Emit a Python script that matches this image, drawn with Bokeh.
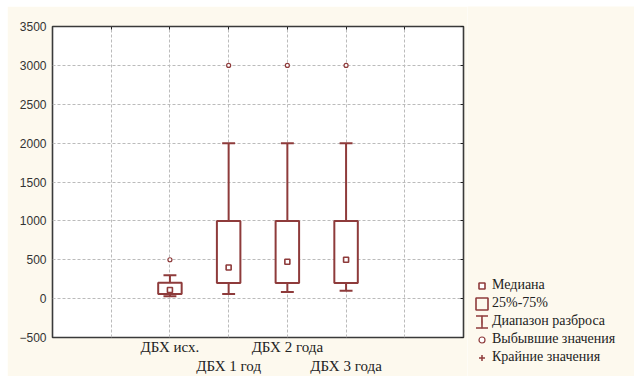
from bokeh.plotting import figure
from bokeh.models import (Range1d, FixedTicker, LinearAxis, Legend, LegendItem, Spacer)
from bokeh.layouts import row, column
from bokeh.embed import file_html
from bokeh.resources import INLINE

# ---- data ----
categories = ["ДБХ исх.", "ДБХ 1 год", "ДБХ 2 года", "ДБХ 3 года"]
medians = [110, 400, 475, 500]
q1 = [60, 200, 200, 200]
q3 = [205, 1000, 1000, 1000]
whisker_low = [30, 60, 85, 100]
whisker_high = [300, 2000, 2000, 2000]
outliers = [500, 3000, 3000, 3000]
y_ticks = [-500, 0, 500, 1000, 1500, 2000, 2500, 3000, 3500]
legend_labels = ["Медиана", "25%-75%", "Диапазон разброса", "Выбывшие значения", "Крайние значения"]

RED = "#8E3B3B"
CREAM = "#FDF9EE"
FONT_SERIF = "Liberation Serif"
NAN = float("nan")

n_slots = len(categories) + 3
xs = [i + 2 for i in range(len(categories))]
box_w = 0.4
cap_w = 0.22

p = figure(width=460, height=370, output_backend="svg", toolbar_location=None,
           x_range=Range1d(0, n_slots), y_range=Range1d(y_ticks[0], y_ticks[-1]),
           min_border_left=45, min_border_right=4, min_border_top=20, min_border_bottom=35)
p.background_fill_color = "white"
p.border_fill_color = CREAM
p.outline_line_color = "#3a3a3a"
p.outline_line_width = 1.6

# grids
grid_x = list(range(1, n_slots))
p.xgrid.ticker = FixedTicker(ticks=grid_x)
p.ygrid.ticker = FixedTicker(ticks=y_ticks)
for g in (p.xgrid, p.ygrid):
    g.grid_line_color = "#bbbbbb"
    g.grid_line_dash = "3 2"
    g.grid_line_width = 1

# y axis
p.yaxis.ticker = FixedTicker(ticks=y_ticks)
p.yaxis.major_label_text_font = "Liberation Sans"
p.yaxis.major_label_text_font_size = "12px"
p.yaxis.major_label_text_color = "#333333"
p.yaxis.major_label_standoff = 6

# x axes (staggered)
ax1 = p.xaxis[0]
ax1.ticker = FixedTicker(ticks=xs[0::2])
ax1.major_label_overrides = {x: c for x, c in zip(xs[0::2], categories[0::2])}
ax2 = LinearAxis(ticker=FixedTicker(ticks=xs[1::2]),
                 major_label_overrides={x: c for x, c in zip(xs[1::2], categories[1::2])})
p.add_layout(ax2, "below")
ax_top = LinearAxis(ticker=FixedTicker(ticks=grid_x),
                    major_label_overrides={t: "" for t in grid_x})
p.add_layout(ax_top, "above")
ax_right = LinearAxis(ticker=FixedTicker(ticks=y_ticks),
                      major_label_overrides={t: "" for t in y_ticks})
p.add_layout(ax_right, "right")

for ax in (ax1, ax2):
    ax.major_label_text_font = FONT_SERIF
    ax.major_label_text_font_size = "15px"
    ax.major_label_text_color = "#222222"
ax1.major_label_standoff = 1
ax2.major_label_standoff = 0
for ax in (p.yaxis[0], ax1, ax2, ax_top, ax_right):
    ax.axis_line_color = None
    ax.major_tick_out = 0
    ax.major_tick_in = 0
    ax.minor_tick_line_color = None
for ax in (ax_top, ax_right):
    ax.major_tick_in = 3
    ax.major_tick_line_color = "#222222"
    ax.major_label_standoff = 0
ax2.major_tick_line_color = None

# boxes
x_left = [x - box_w / 2 for x in xs]
x_right = [x + box_w / 2 for x in xs]
p.quad(left=x_left, right=x_right, bottom=q1, top=q3, fill_color="white", line_color=None)
p.segment(x0=xs, x1=xs, y0=q3, y1=whisker_high, line_color=RED, line_width=2)
p.segment(x0=xs, x1=xs, y0=whisker_low, y1=q1, line_color=RED, line_width=2)
p.segment(x0=[x - cap_w / 2 for x in xs], x1=[x + cap_w / 2 for x in xs],
          y0=whisker_high, y1=whisker_high, line_color=RED, line_width=2)
p.segment(x0=[x - cap_w / 2 for x in xs], x1=[x + cap_w / 2 for x in xs],
          y0=whisker_low, y1=whisker_low, line_color=RED, line_width=2)
p.quad(left=x_left, right=x_right, bottom=q1, top=q3, fill_alpha=0,
       line_color=RED, line_width=2)
p.scatter(x=xs, y=medians, marker="square", size=5, fill_color="white",
          line_color=RED, line_width=1.6)
p.scatter(x=xs, y=outliers, marker="circle", size=4, fill_color="white",
          line_color=RED, line_width=1.2)

# ---- legend panel (legend-only glyphs, nothing drawn in the panel itself) ----
lf = figure(width=167, height=370, output_backend="svg", toolbar_location=None,
            x_axis_location=None, y_axis_location=None,
            x_range=Range1d(0, 1), y_range=Range1d(0, 1),
            min_border_left=0, min_border_right=0, min_border_top=0, min_border_bottom=0)
lf.background_fill_color = CREAM
lf.border_fill_color = CREAM
lf.outline_line_color = None
lf.grid.visible = False
med_r = lf.scatter(x=[NAN], y=[NAN], marker="square", size=5, fill_color="white",
                   line_color=RED, line_width=1.6)
box_r = lf.quad(left=[NAN], right=[NAN], bottom=[NAN], top=[NAN], fill_alpha=0,
                line_color=RED, line_width=1.6)
# range icon: dashed outline keeps only top and bottom caps; a very thin ellipse gives the stem
cap_r = lf.quad(left=[NAN], right=[NAN], bottom=[NAN], top=[NAN], fill_alpha=0,
                line_color=RED, line_width=1.6, line_dash="12 12")
stem_r = lf.ellipse(x=[NAN], y=[NAN], width=0.1, height=10, width_units="screen",
                    height_units="screen", fill_alpha=0, line_color=RED, line_width=1.6)
out_r = lf.scatter(x=[NAN], y=[NAN], marker="circle", size=4, fill_color="white",
                   line_color=RED, line_width=1.2)
ext_r = lf.scatter(x=[NAN], y=[NAN], marker="cross", size=6, line_color=RED, line_width=1.5)

legend = Legend(items=[
    LegendItem(label=legend_labels[0], renderers=[med_r]),
    LegendItem(label=legend_labels[1], renderers=[box_r]),
    LegendItem(label=legend_labels[2], renderers=[cap_r, stem_r]),
    LegendItem(label=legend_labels[3], renderers=[out_r]),
    LegendItem(label=legend_labels[4], renderers=[ext_r]),
], location=(7, 11))
legend.background_fill_alpha = 0
legend.border_line_color = None
legend.padding = 0
legend.margin = 0
legend.spacing = 2
legend.glyph_width = 15
legend.glyph_height = 15
legend.label_height = 15
legend.label_standoff = 3
legend.label_text_font = FONT_SERIF
legend.label_text_font_size = "14px"
legend.label_text_color = "#222222"
lf.add_layout(legend, "center")

layout = column(Spacer(height=6), row(Spacer(width=7), p, column(lf)))
open("out.html", "w").write(file_html(layout, INLINE))
